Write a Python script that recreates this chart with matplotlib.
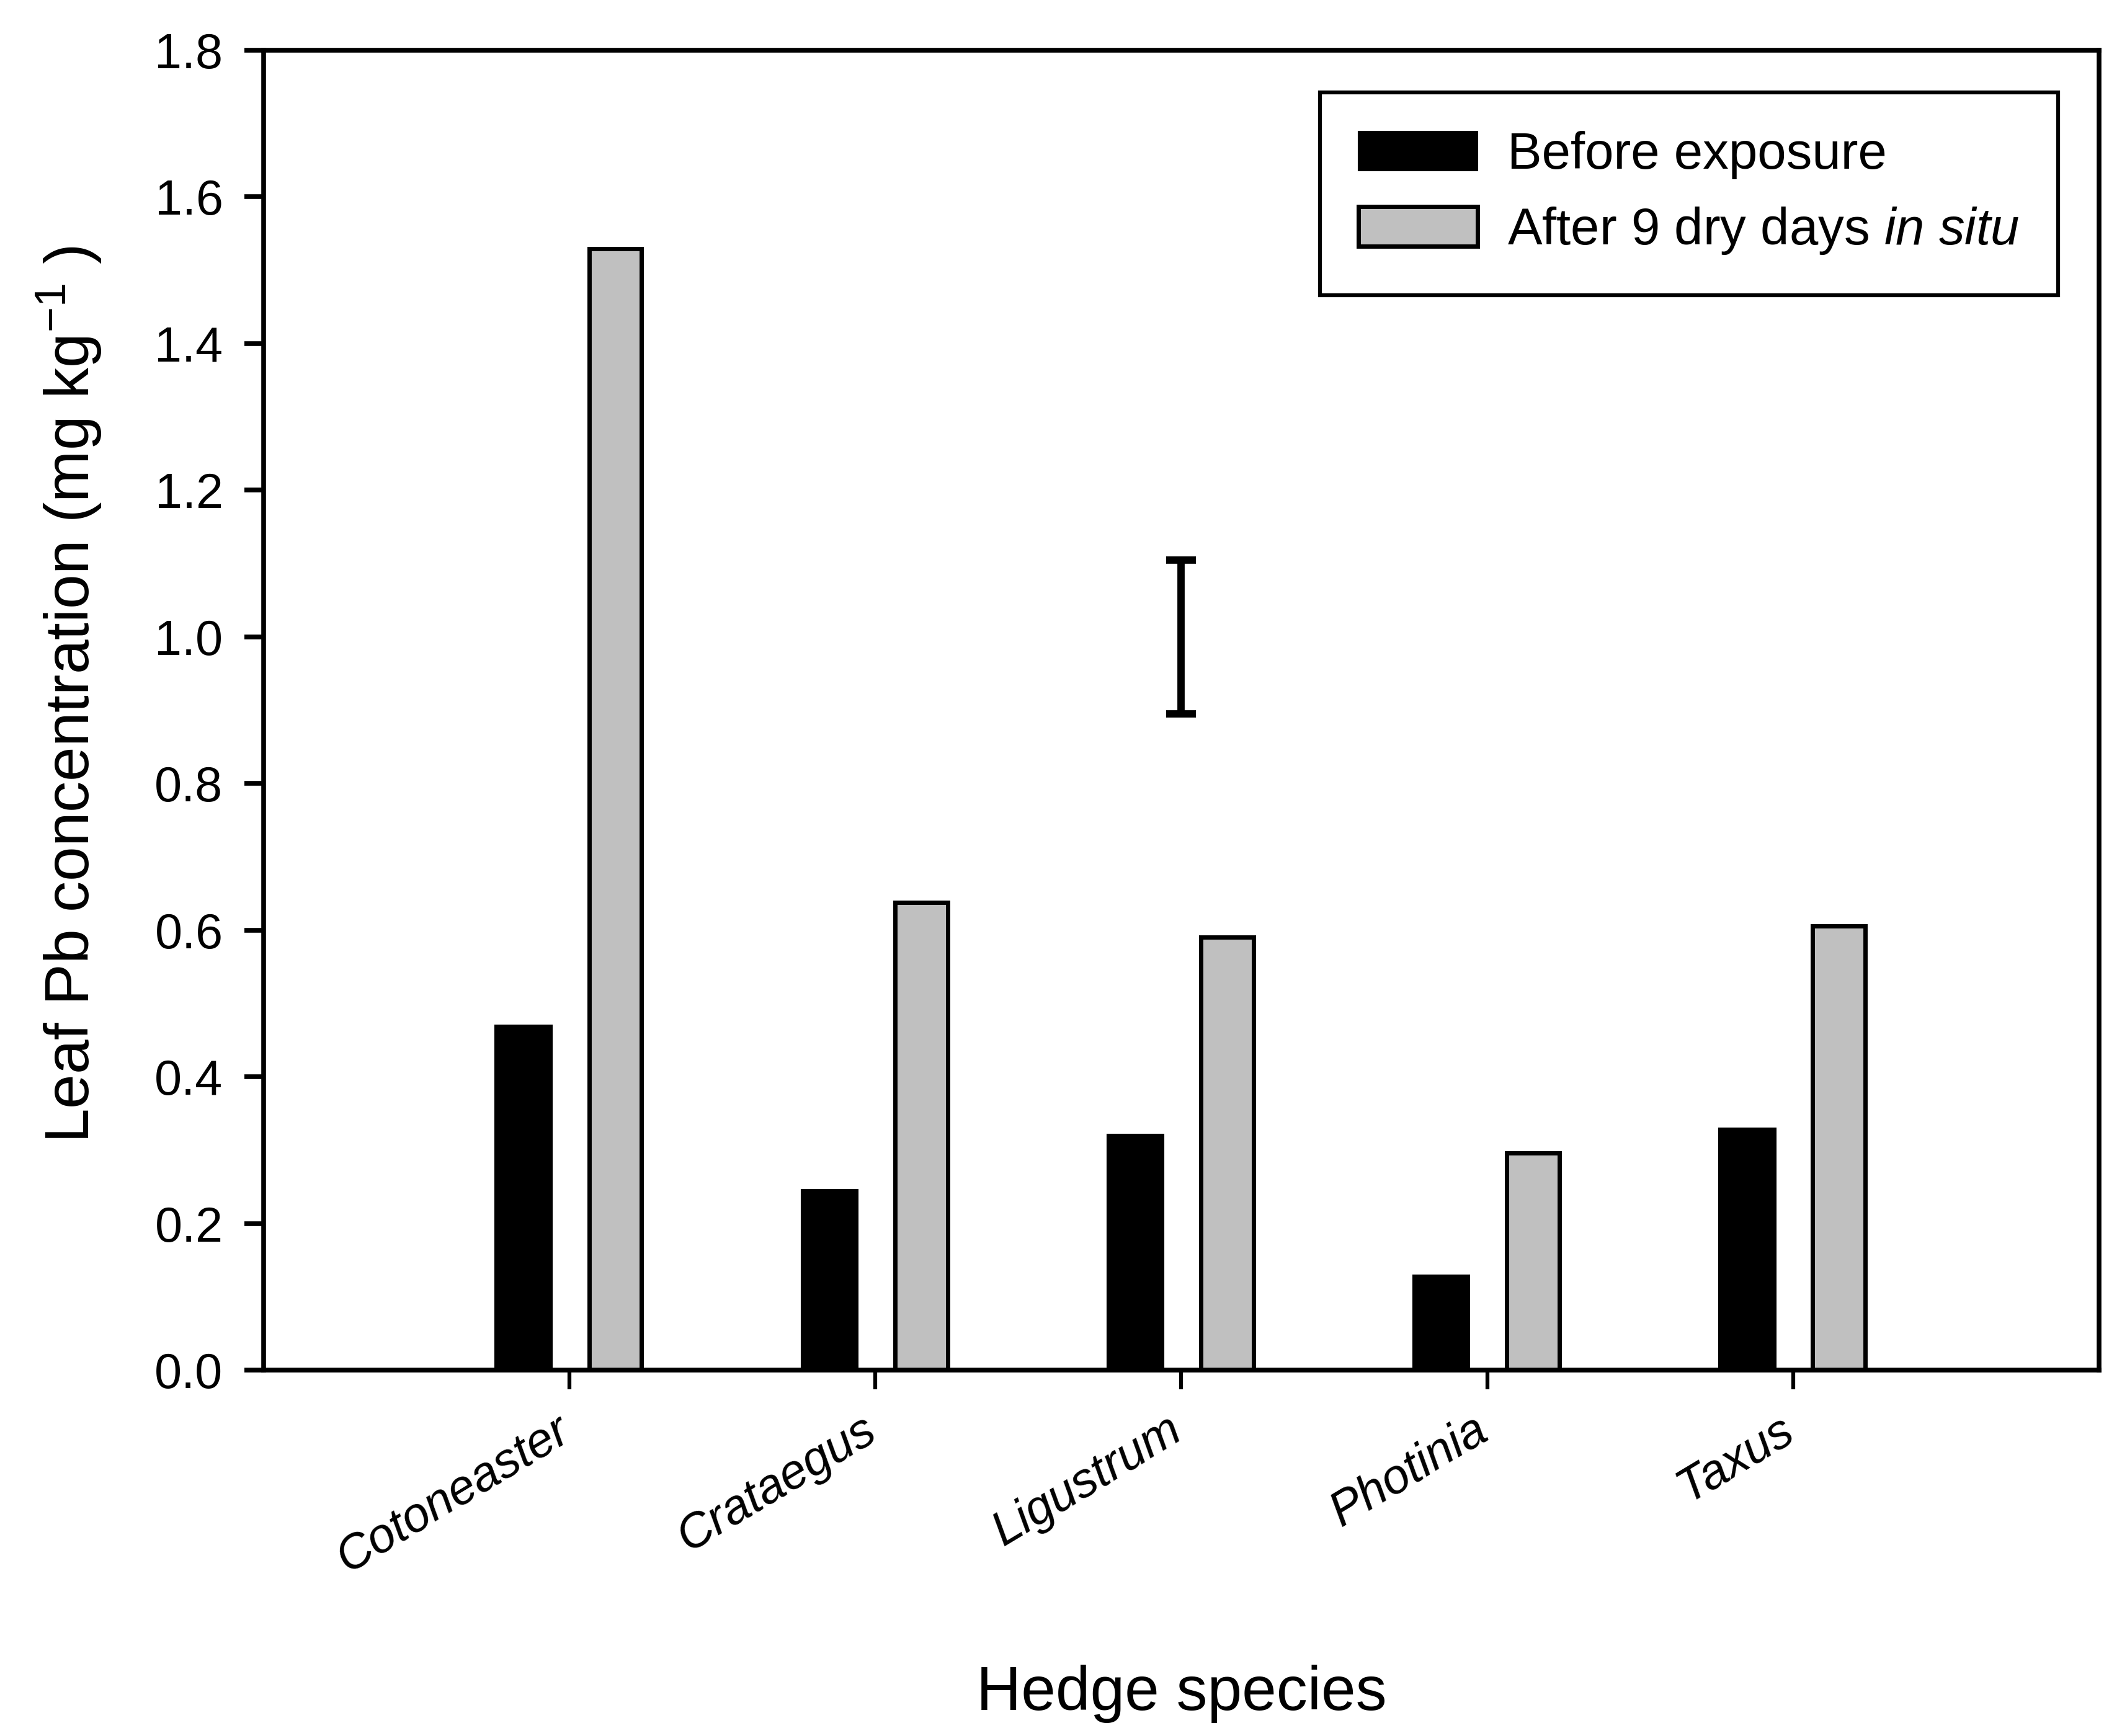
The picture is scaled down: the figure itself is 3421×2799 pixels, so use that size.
import matplotlib
matplotlib.use("Agg")
import matplotlib.pyplot as plt
import matplotlib.transforms as mtransforms
import numpy as np

species = ["Cotoneaster", "Crataegus", "Ligustrum", "Photinia", "Taxus"]
before = [0.470, 0.246, 0.321, 0.129, 0.330]
after = [1.529, 0.638, 0.590, 0.296, 0.606]
series_labels = ["Before exposure", "After 9 dry days $\\it{in}$ $\\it{situ}$"]
err_x_index = 2
err_center = 1.0
err_half = 0.105
yticks = [0.0, 0.2, 0.4, 0.6, 0.8, 1.0, 1.2, 1.4, 1.6, 1.8]

plt.rcParams['font.family'] = ['Liberation Sans', 'DejaVu Sans']
plt.rcParams['mathtext.fontset'] = 'custom'
plt.rcParams['mathtext.rm'] = 'Liberation Sans'
plt.rcParams['mathtext.it'] = 'Liberation Sans:italic'

fig = plt.figure(figsize=(34.21, 27.99), dpi=100)
ax = fig.add_axes([0.1242, 0.2108, 0.9892 - 0.1242, 0.9711 - 0.2108])

x = np.arange(len(species))
ax.bar(x - 0.15, before, width=0.185, color='black', edgecolor='black',
       linewidth=1.5, label=series_labels[0], zorder=2)
ax.bar(x + 0.15, after, width=0.172, color='#c0c0c0', edgecolor='black',
       linewidth=5, label=series_labels[1], zorder=2)

ax.errorbar([x[err_x_index]], [err_center], yerr=[err_half], fmt='none',
            ecolor='black', elinewidth=8.5, capsize=17, capthick=8.5, zorder=3)

ax.set_xlim(-1, 5)
ax.set_ylim(0, 1.8)
ax.set_yticks(yticks)
ax.set_yticklabels([f"{v:.1f}" for v in yticks])
ax.set_xticks(x)
ax.tick_params(axis='x', labelbottom=False)

offset = mtransforms.ScaledTranslation(-0.24, -0.6, fig.dpi_scale_trans)
for xi, name in zip(x, species):
    ax.text(xi, 0, name, transform=ax.get_xaxis_transform() + offset,
            rotation=31, ha='right', va='top', rotation_mode='anchor',
            fontstyle='italic', fontsize=56, clip_on=False)

for s in ax.spines.values():
    s.set_linewidth(5.5)
ax.tick_params(axis='y', direction='out', length=22, width=5.5, labelsize=57, pad=25)
ax.tick_params(axis='x', direction='out', length=22, width=4.5)

ax.set_ylabel("Leaf Pb concentration (mg kg$^{-1}$ )", fontsize=72)
ax.yaxis.set_label_coords(-0.087, 0.512)
ax.set_xlabel("Hedge species", fontsize=72, va='baseline')
ax.xaxis.set_label_coords(0.5, -0.2575)

leg = ax.legend(loc='upper right', bbox_to_anchor=(0.9777, 0.968), borderaxespad=0,
                fontsize=60, frameon=True, fancybox=False, edgecolor='black',
                handlelength=2.3, handleheight=0.8, handletextpad=0.58,
                borderpad=0.75, labelspacing=0.5)
leg.get_frame().set_linewidth(4.5)
leg.get_frame().set_alpha(1)

fig.savefig("out.png", dpi=100)
